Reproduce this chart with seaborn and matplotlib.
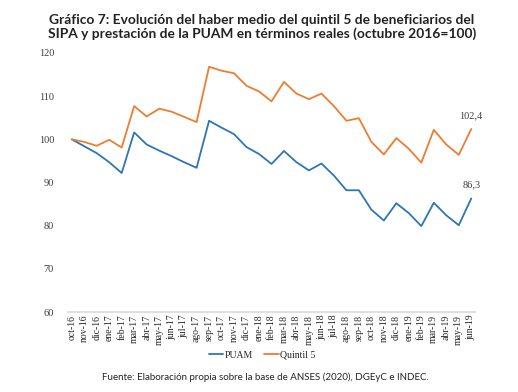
import pandas as pd
import seaborn as sns
import matplotlib.pyplot as plt
from matplotlib.lines import Line2D

meses = ["oct-16", "nov-16", "dic-16",
         "ene-17", "feb-17", "mar-17", "abr-17", "may-17", "jun-17",
         "jul-17", "ago-17", "sep-17", "oct-17", "nov-17", "dic-17",
         "ene-18", "feb-18", "mar-18", "abr-18", "may-18", "jun-18",
         "jul-18", "ago-18", "sep-18", "oct-18", "nov-18", "dic-18",
         "ene-19", "feb-19", "mar-19", "abr-19", "may-19", "jun-19"]

puam = [100.0, 98.4, 96.8, 94.7, 92.2, 101.6, 98.8, 97.4, 96.1, 94.7, 93.4,
        104.3, 102.7, 101.2, 98.2, 96.6, 94.3, 97.3, 94.7, 92.8, 94.4,
        91.6, 88.2, 88.2, 83.7, 81.2, 85.2, 82.9, 79.9, 85.3, 82.4, 80.1, 86.3]

quintil5 = [100.0, 99.4, 98.5, 99.9, 98.1, 107.7, 105.3, 107.1, 106.4, 105.2, 104.0,
            116.8, 115.9, 115.3, 112.4, 111.1, 108.8, 113.3, 110.6, 109.3, 110.6,
            107.7, 104.3, 104.9, 99.4, 96.5, 100.3, 97.8, 94.6, 102.2, 98.8, 96.4, 102.4]

df = pd.DataFrame({
    "mes": meses * 2,
    "pos": list(range(len(meses))) * 2,
    "valor": puam + quintil5,
    "serie": ["PUAM"] * len(meses) + ["Quintil 5"] * len(meses),
})

sns.set_style("white")
fig = plt.figure(figsize=(5.18, 3.92), dpi=100)
ax = fig.add_axes([68 / 518, 1 - 312 / 392, 407 / 518, 259 / 392])

sns.lineplot(data=df, x="pos", y="valor", hue="serie",
             palette={"PUAM": "#2E75B6", "Quintil 5": "#ED7D31"},
             linewidth=1.3, ax=ax, legend=False)

ax.set_xlim(-0.3, len(meses) - 0.7)
ax.set_ylim(60, 120)
ax.set_yticks(range(60, 121, 10))
ax.set_xticks(range(len(meses)))
ax.set_xticklabels(meses, rotation=90, family="Liberation Serif", fontsize=7)
ax.set_yticklabels([str(v) for v in range(60, 121, 10)], family="Liberation Serif",
                   fontsize=7.5, color="#404040")
ax.tick_params(axis="both", length=0, pad=10)
ax.tick_params(axis="x", pad=2)
ax.set_xlabel("")
ax.set_ylabel("")
for s in ["top", "right", "left"]:
    ax.spines[s].set_visible(False)
ax.spines["bottom"].set_color("#d9d9d9")
ax.spines["bottom"].set_linewidth(1.2)

# etiquetas del último dato
last = len(meses) - 1
ax.annotate("102,4", (last, quintil5[-1]), xytext=(0, 8), textcoords="offset points",
            ha="center", family="Liberation Serif", fontsize=7.5, color="#404040")
ax.annotate("86,3", (last, puam[-1]), xytext=(0, 8), textcoords="offset points",
            ha="center", family="Liberation Serif", fontsize=7.5, color="#404040")

handles = [Line2D([], [], color="#2E75B6", lw=1.3), Line2D([], [], color="#ED7D31", lw=1.3)]
fig.legend(handles, ["PUAM", "Quintil 5"], loc="center", bbox_to_anchor=(262 / 518, 1 - 355 / 392),
           ncol=2, frameon=False, handlelength=1.5, handletextpad=0.1, columnspacing=1.2,
           prop={"family": "Liberation Serif", "size": 7})

fig.text(262 / 518, 1 - 27 / 392,
         "Gráfico 7: Evolución del haber medio del quintil 5 de beneficiarios del\n"
         "SIPA y prestación de la PUAM en términos reales (octubre 2016=100)",
         ha="center", va="center", fontsize=9.9, fontweight="bold", color="#222222",
         family="Lato", linespacing=1.05)
fig.text(265 / 518, 1 - 377 / 392,
         "Fuente: Elaboración propia sobre la base de ANSES (2020), DGEyC e INDEC.",
         ha="center", va="center", fontsize=7.0, color="#222222", family="Lato")

fig.savefig("out.png", dpi=100)
